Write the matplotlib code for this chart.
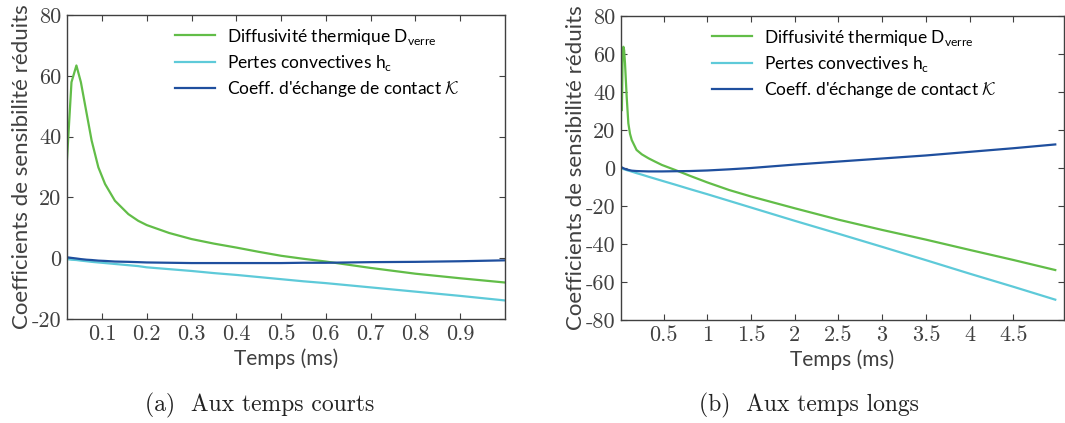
import matplotlib
matplotlib.use('Agg')
import matplotlib.pyplot as plt

# Short times (ms)
t_short = [0.022, 0.032, 0.043, 0.053, 0.066, 0.077, 0.092, 0.107, 0.129, 0.159, 0.181,
           0.2, 0.25, 0.3, 0.35, 0.4, 0.45, 0.5, 0.55, 0.6, 0.7, 0.8, 0.9, 1.0]
D_short = [32.6, 57.9, 63.4, 57.9, 47.5, 38.7, 29.9, 24.4, 18.9, 14.5, 12.3,
           10.9, 8.3, 6.3, 4.8, 3.5, 2.1, 0.8, -0.2, -1.1, -3.2, -5.1, -6.6, -8.0]
hc_short = [-0.3, -0.5, -0.6, -0.8, -1.0, -1.2, -1.4, -1.6, -1.9, -2.3, -2.6,
            -3.0, -3.6, -4.2, -4.9, -5.5, -6.2, -6.9, -7.6, -8.2, -9.6, -11.0, -12.4, -13.9]
K_short = [0.3, 0.1, -0.1, -0.3, -0.5, -0.6, -0.8, -0.9, -1.1, -1.2, -1.3,
           -1.4, -1.5, -1.6, -1.6, -1.6, -1.6, -1.6, -1.5, -1.5, -1.3, -1.2, -1.0, -0.7]

# Long times (ms)
t_long = [0.022, 0.03, 0.039, 0.048, 0.058, 0.077, 0.096, 0.115, 0.135, 0.19, 0.25, 0.327,
          0.4, 0.48, 0.635, 0.8, 1.0, 1.25, 1.5, 2.0, 2.5, 3.0, 3.5, 4.0, 4.5, 4.98]
D_long = [30.5, 58.0, 63.8, 62.0, 55.0, 37.5, 23.5, 18.0, 14.7, 9.5, 7.2, 5.1,
          3.4, 1.6, -1.1, -4.1, -7.6, -11.6, -15.0, -21.2, -27.2, -32.6, -37.7, -43.1, -48.4, -53.7]
hc_long = [-0.3, -0.4, -0.5, -0.7, -0.8, -1.1, -1.4, -1.6, -1.9, -2.7, -3.5, -4.6,
           -5.6, -6.7, -8.8, -11.1, -13.8, -17.3, -20.8, -27.8, -34.6, -41.5, -48.5, -55.6, -62.5, -69.3]
K_long = [0.3, 0.1, -0.1, -0.3, -0.5, -0.8, -1.0, -1.2, -1.4, -1.6, -1.7, -1.8,
          -1.8, -1.8, -1.7, -1.6, -1.3, -0.7, 0.0, 1.8, 3.4, 5.0, 6.6, 8.5, 10.4, 12.4]

xticks_short = [0.1, 0.2, 0.3, 0.4, 0.5, 0.6, 0.7, 0.8, 0.9]
yticks_short = [-20, 0, 20, 40, 60, 80]
xticks_long = [0.5, 1, 1.5, 2, 2.5, 3, 3.5, 4, 4.5]
yticks_long = [-80, -60, -40, -20, 0, 20, 40, 60, 80]

labels = ['Diffusivité thermique D$_{\\mathrm{verre}}$',
          'Pertes convectives h$_{\\mathrm{c}}$',
          'Coeff. d\'échange de contact $\\mathcal{K}$']
colors = ['#62bd48', '#5ecad9', '#1f4f9e']

plt.rcParams['font.family'] = ['Lato', 'DejaVu Sans']
plt.rcParams['mathtext.fontset'] = 'custom'
plt.rcParams['mathtext.rm'] = 'Lato'
plt.rcParams['mathtext.cal'] = 'cmsy10'
plt.rcParams['axes.unicode_minus'] = False

gray = '#404040'
fig = plt.figure(figsize=(10.65, 4.23), dpi=100)
ax1 = fig.add_axes([67 / 1065, 1 - 319 / 423, 438 / 1065, 304 / 423])
ax2 = fig.add_axes([621 / 1065, 1 - 320 / 423, 443 / 1065, 304 / 423])


def style(ax, t, D, hc, K, xt, yt, xlim, ylim, leg_x):
    for y, lab, c in zip([D, hc, K], labels, colors):
        ax.plot(t, y, color=c, lw=1.6, label=lab)
    ax.set_xlim(*xlim)
    ax.set_ylim(*ylim)
    ax.set_xticks(xt)
    ax.set_yticks(yt)
    ax.set_xticklabels([f'{v:g}' for v in xt], fontfamily='cmr10', fontsize=16, color=gray)
    ax.set_yticklabels([f'{v:g}' for v in yt], fontfamily='cmr10', fontsize=16, color=gray)
    ax.tick_params(direction='in', top=True, right=True, length=4, width=0.8, color=gray, pad=4)
    for s in ax.spines.values():
        s.set_color(gray)
        s.set_linewidth(1.0)
    ax.set_xlabel('Temps (ms)', fontsize=15, color=gray, labelpad=3)
    ax.set_ylabel('Coefficients de sensibilité réduits', fontsize=16, color=gray, labelpad=0)
    ax.legend(loc='upper left', bbox_to_anchor=(leg_x, 0.985), frameon=False, fontsize=12.5,
              handlelength=2.3, handletextpad=0.7, labelspacing=0.36, borderaxespad=0)


style(ax1, t_short, D_short, hc_short, K_short, xticks_short, yticks_short,
      (0.022, 1.0), (-20, 80), 0.231)
style(ax2, t_long, D_long, hc_long, K_long, xticks_long, yticks_long,
      (0.012, 5.08), (-80, 80), 0.19)

fig.text(260 / 1065, 1 - 405 / 423, '(a)  Aux temps courts', fontfamily='cmr10',
         fontsize=17, ha='center', va='center', color='#222222')
fig.text(809 / 1065, 1 - 405 / 423, '(b)  Aux temps longs', fontfamily='cmr10',
         fontsize=17, ha='center', va='center', color='#222222')

fig.savefig('out.png', dpi=100)
